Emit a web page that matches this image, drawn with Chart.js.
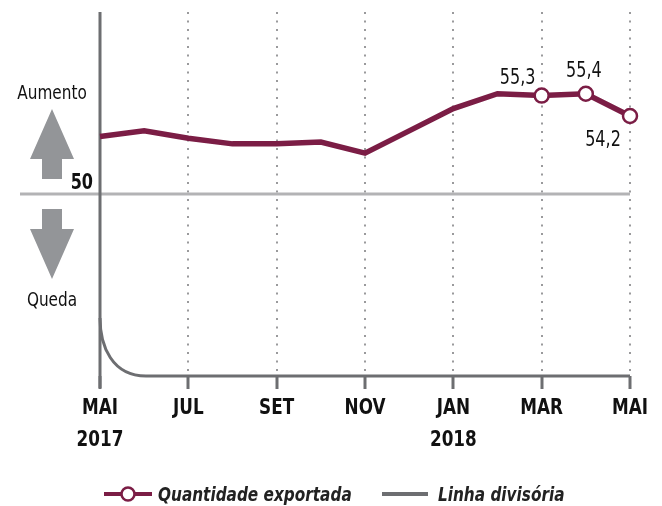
<!DOCTYPE html>
<html>
<head>
<meta charset="utf-8">
<script src="https://cdn.jsdelivr.net/npm/chart.js@4.4.1/dist/chart.umd.min.js"></script>
<style>
  html, body { margin: 0; padding: 0; background: #fff; }
  #wrap { width: 662px; height: 506px; position: relative; }
</style>
</head>
<body>
<div id="wrap"><canvas id="pmi"></canvas></div>
<script>
const months = ['MAI', 'JUN', 'JUL', 'AGO', 'SET', 'OUT', 'NOV', 'DEZ', 'JAN', 'FEV', 'MAR', 'ABR', 'MAI'];
const years = ['2017', '', '', '', '', '', '', '', '2018', '', '', '', ''];
const quantidade = [53.1, 53.4, 53.0, 52.7, 52.7, 52.8, 52.2, 53.4, 54.6, 55.4, 55.3, 55.4, 54.2];
const valueLabels = ['', '', '', '', '', '', '', '', '', '', '55,3', '55,4', '54,2'];
const BASE = 50;

const MAROON = '#7b1d45';
const DARK = '#6d6e71';
const FONT = '"DejaVu Sans Condensed", "Liberation Sans Narrow", sans-serif';
const SQ = 0.85; // horizontal squeeze to imitate the narrow typeface

// draws text narrowed horizontally
function narrowText(c, t, x, y, align) {
    c.save();
    c.translate(x, y);
    c.scale(SQ, 1);
    c.textAlign = align || 'left';
    c.fillText(t, 0, 0);
    c.restore();
}

document.addEventListener("DOMContentLoaded", function() {
    const ctx = document.getElementById('pmi');

    const decor = {
        id: 'decor',
        beforeDatasetsDraw(chart) {
            const c = chart.ctx, x = chart.scales.x, y = chart.scales.y;
            const area = chart.chartArea;
            const x0 = x.getPixelForValue(0);
            const xEnd = x.getPixelForValue(months.length - 1);
            const yb = y.getPixelForValue(BASE);
            c.save();
            // dividing line at 50
            c.strokeStyle = '#b3b3b5';
            c.lineWidth = 3;
            c.beginPath(); c.moveTo(20, yb); c.lineTo(xEnd, yb); c.stroke();
            // vertical axis
            c.strokeStyle = DARK;
            c.lineWidth = 3;
            c.beginPath(); c.moveTo(x0, 12); c.lineTo(x0, area.bottom + 12); c.stroke();
            // bottom axis with rounded corner
            c.beginPath();
            c.moveTo(x0, area.bottom - 58);
            c.bezierCurveTo(x0, area.bottom - 30, x0 + 12, area.bottom, x0 + 46, area.bottom);
            c.lineTo(xEnd, area.bottom);
            c.stroke();
            // arrows
            c.fillStyle = '#939598';
            c.beginPath();
            c.moveTo(52, 109); c.lineTo(74, 159); c.lineTo(62, 159); c.lineTo(62, 179);
            c.lineTo(42, 179); c.lineTo(42, 159); c.lineTo(30, 159); c.closePath(); c.fill();
            c.beginPath();
            c.moveTo(42, 209); c.lineTo(62, 209); c.lineTo(62, 229); c.lineTo(74, 229);
            c.lineTo(52, 279); c.lineTo(30, 229); c.lineTo(42, 229); c.closePath(); c.fill();
            // side texts
            c.fillStyle = '#111';
            c.textBaseline = 'alphabetic';
            c.font = '20px ' + FONT;
            narrowText(c, 'Aumento', 52, 99, 'center');
            narrowText(c, 'Queda', 52, 306, 'center');
            c.font = 'bold 21px ' + FONT;
            narrowText(c, '50', 93, 189, 'right');
            // x labels
            c.font = 'bold 22px ' + FONT;
            months.forEach(function(m, i) {
                if (i % 2) return;
                const px = x.getPixelForValue(i);
                narrowText(c, m, px, area.bottom + 38, 'center');
                if (years[i]) narrowText(c, years[i], px, area.bottom + 70, 'center');
            });
            c.restore();
        },
        afterDatasetsDraw(chart) {
            const c = chart.ctx, x = chart.scales.x, y = chart.scales.y;
            c.save();
            c.fillStyle = '#111';
            c.font = '21px ' + FONT;
            c.textBaseline = 'alphabetic';
            const offs = { 10: [-24, -12], 11: [-2, -17], 12: [-27, 30] };
            valueLabels.forEach(function(t, i) {
                if (!t) return;
                const o = offs[i];
                narrowText(c, t, x.getPixelForValue(i) + o[0], y.getPixelForValue(quantidade[i]) + o[1], 'center');
            });
            // legend
            const ly = 494;
            c.strokeStyle = MAROON; c.lineWidth = 4;
            c.beginPath(); c.moveTo(104, ly); c.lineTo(152, ly); c.stroke();
            c.fillStyle = '#fff'; c.lineWidth = 2.5;
            c.beginPath(); c.arc(128, ly, 6.5, 0, Math.PI * 2); c.fill(); c.stroke();
            c.strokeStyle = DARK; c.lineWidth = 4;
            c.beginPath(); c.moveTo(382, ly); c.lineTo(428, ly); c.stroke();
            c.fillStyle = '#222';
            c.font = 'italic bold 20px ' + FONT;
            narrowText(c, 'Quantidade exportada', 158, ly + 7, 'left');
            narrowText(c, 'Linha divisória', 438, ly + 7, 'left');
            c.restore();
        }
    };

    new Chart(ctx, {
        type: 'line',
        data: {
            labels: months,
            datasets: [
                {
                    label: 'Quantidade exportada',
                    data: quantidade,
                    borderColor: MAROON,
                    borderWidth: 5.5,
                    tension: 0,
                    pointRadius: valueLabels.map(function(t) { return t ? 7 : 0; }),
                    pointBackgroundColor: '#fff',
                    pointBorderColor: MAROON,
                    pointBorderWidth: 2.5
                }
            ]
        },
        options: {
            responsive: true,
            maintainAspectRatio: false,
            animation: false,
            layout: { padding: { left: 100, right: 32, top: 12, bottom: 117 } },
            plugins: { legend: { display: false }, tooltip: { enabled: false } },
            scales: {
                x: {
                    offset: false,
                    border: { display: false, dash: [2, 6.5] },
                    grid: {
                        color: function(c) { return (c.index % 2 === 0 && c.index > 0) ? '#9a9a9c' : 'rgba(0,0,0,0)'; },
                        lineWidth: 2,
                        tickColor: function(c) { return c.index % 2 === 0 ? DARK : 'rgba(0,0,0,0)'; },
                        tickLength: 13,
                        tickWidth: 3,
                        tickBorderDash: []
                    },
                    ticks: { display: false }
                },
                y: {
                    display: false,
                    min: 40.2,
                    max: 59.8
                }
            }
        },
        plugins: [decor]
    });
});
</script>
</body>
</html>
